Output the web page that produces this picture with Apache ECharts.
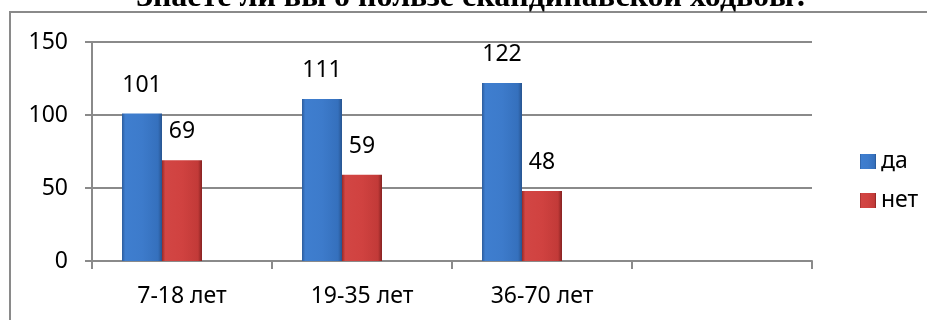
<!DOCTYPE html>
<html>
<head>
<meta charset="utf-8">
<script src="https://cdn.jsdelivr.net/npm/echarts@6/dist/echarts.min.js"></script>
<style>
html,body{margin:0;padding:0;background:#fff;}
#chart{width:927px;height:320px;}
</style>
</head>
<body>
<div id="chart"></div>
<script>
var titleText = 'Знаете ли вы о пользе скандинавской ходьбы?';
var categories = ['7-18 лет', '19-35 лет', '36-70 лет', ''];
var seriesNames = ['да', 'нет'];
var valuesDa = [101, 111, 122, '-'];
var valuesNet = [69, 59, 48, '-'];
var valuesEmpty = ['-', '-', '-', '-'];
var yTicks = [0, 50, 100, 150];

var font = 'Noto Sans';
var fs = 23;
var blue = {type:'linear', x:0, y:0, x2:1, y2:0, colorStops:[
  {offset:0, color:'#2c5c9c'}, {offset:0.08, color:'#3f7ecf'}, {offset:0.5, color:'#3d7bcb'},
  {offset:0.9, color:'#3570bd'}, {offset:1, color:'#27548f'}]};
var red = {type:'linear', x:0, y:0, x2:1, y2:0, colorStops:[
  {offset:0, color:'#962a28'}, {offset:0.08, color:'#d24644'}, {offset:0.5, color:'#d04240'},
  {offset:0.9, color:'#c23a38'}, {offset:1, color:'#862221'}]};

var chart = echarts.init(document.getElementById('chart'), null, {renderer:'canvas'});
var labelStyle = {show:true, position:'top', distance:17, fontFamily:font, fontSize:fs, color:'#000'};
chart.setOption({
  animation:false,
  backgroundColor:'#fff',
  graphic:[
    {type:'rect', shape:{x:10, y:12, width:930, height:320}, style:{fill:'none', stroke:'#8a8a8a', lineWidth:2}, z:-1},
    {type:'text', x:473, y:14, style:{text:titleText, textAlign:'center', textVerticalAlign:'bottom',
      font:'bold 32px "Liberation Serif"', fill:'#000'}}
  ],
  grid:{left:92, right:115, top:42, bottom:59, containLabel:false},
  legend:{
    orient:'vertical', left:855, top:145, itemWidth:16, itemHeight:15, itemGap:16,
    data:seriesNames, icon:'rect',
    textStyle:{fontFamily:font, fontSize:fs, color:'#000'}
  },
  xAxis:{
    type:'category', data:categories, boundaryGap:true,
    axisLine:{show:true, lineStyle:{color:'#8a8a8a', width:2}},
    axisTick:{show:true, length:8, alignWithLabel:false, lineStyle:{color:'#8a8a8a', width:2}},
    axisLabel:{margin:24, fontFamily:font, fontSize:fs, color:'#000'},
    splitLine:{show:false}
  },
  yAxis:{
    type:'value', min:yTicks[0], max:yTicks[yTicks.length-1], interval:50,
    axisLine:{show:true, lineStyle:{color:'#8a8a8a', width:2}},
    axisTick:{show:true, length:7, lineStyle:{color:'#8a8a8a', width:2}},
    axisLabel:{margin:24, fontFamily:font, fontSize:fs, color:'#000'},
    splitLine:{show:true, lineStyle:{color:'#8a8a8a', width:2}}
  },
  series:[
    {name:seriesNames[0], type:'bar', data:valuesDa, barWidth:40, barGap:'0%', itemStyle:{color:blue}, label:labelStyle},
    {name:seriesNames[1], type:'bar', data:valuesNet, barWidth:40, barGap:'0%', itemStyle:{color:red}, label:labelStyle},
    {name:'_empty', type:'bar', data:valuesEmpty, barWidth:40, barGap:'0%'}
  ]
});
</script>
</body>
</html>
